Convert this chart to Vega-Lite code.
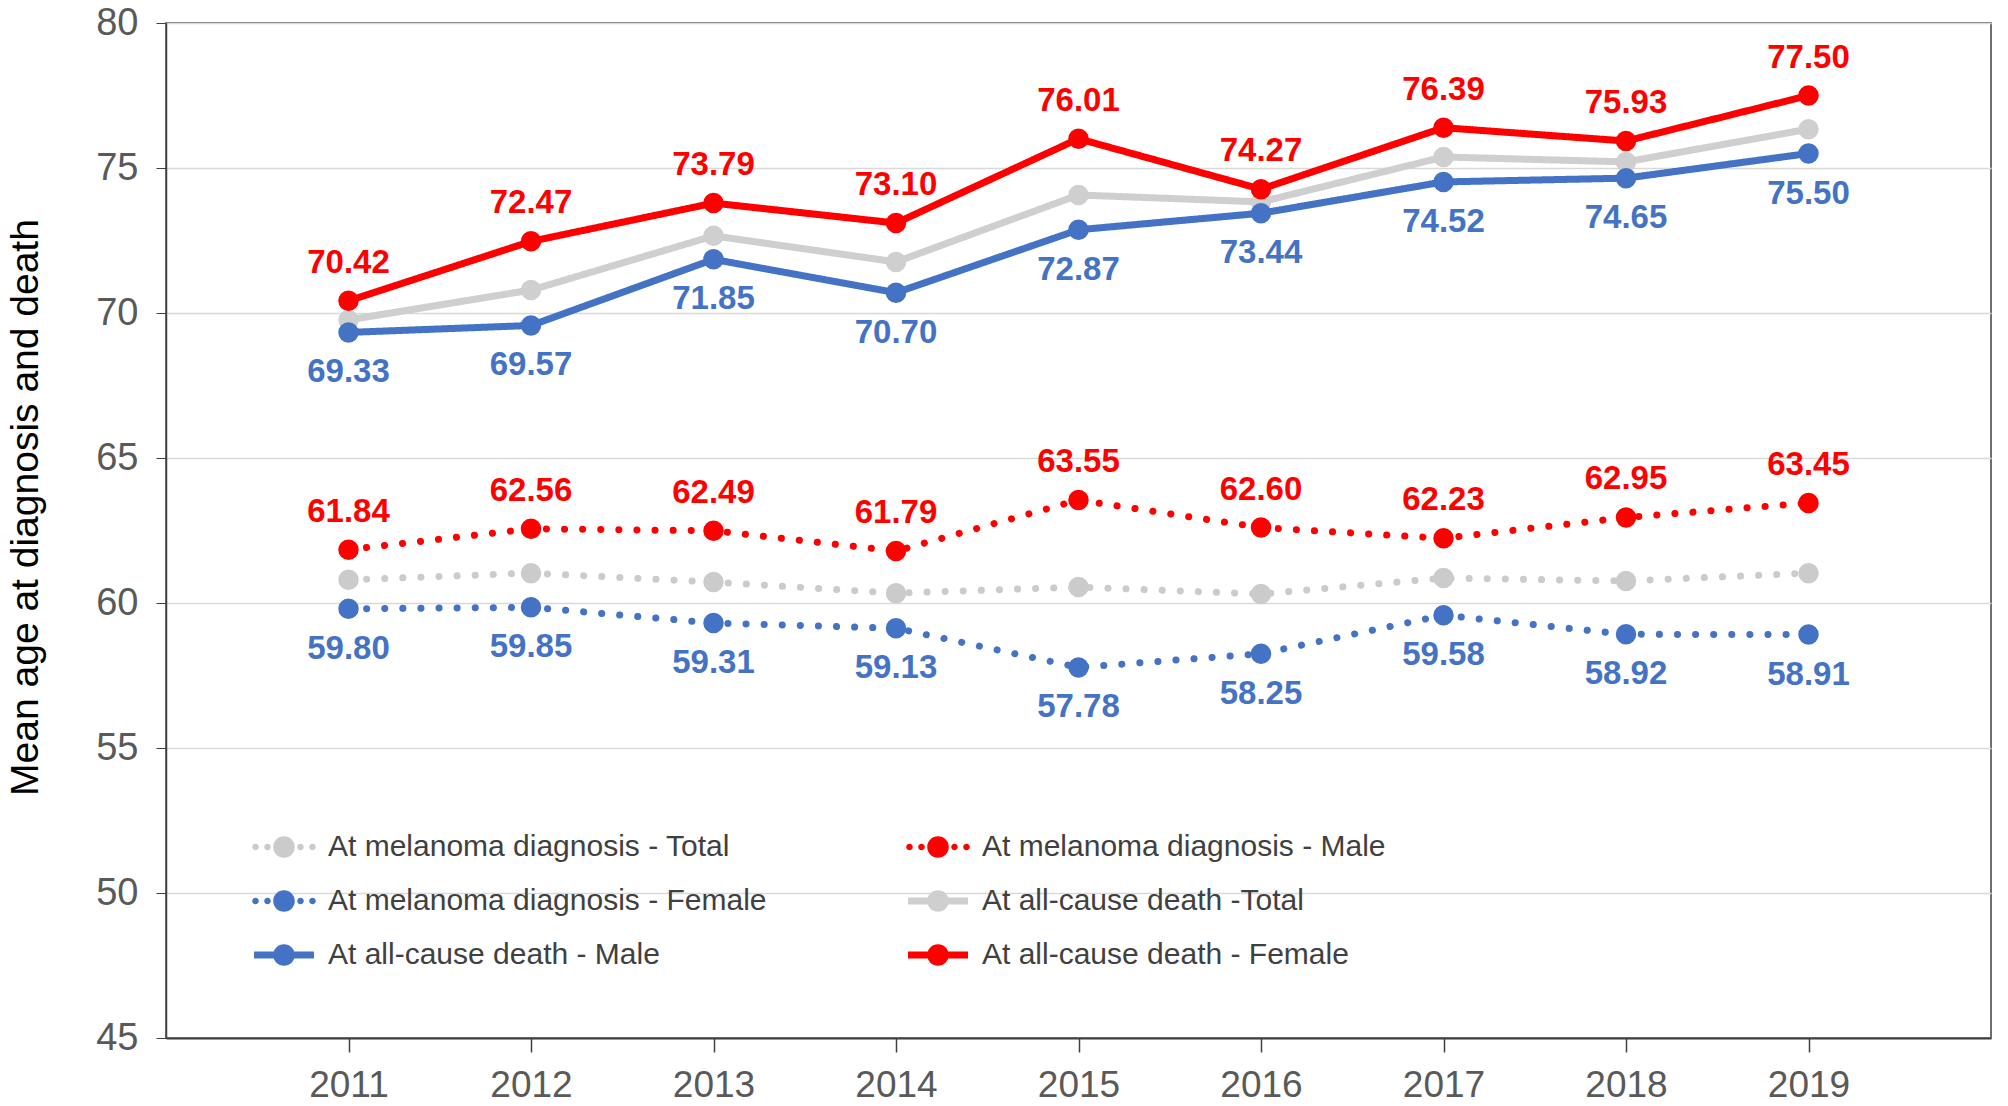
{
  "$schema": "https://vega.github.io/schema/vega-lite/v6.json",
  "description": "Mean age at melanoma diagnosis and at all-cause death, 2011-2019",
  "width": 1825,
  "height": 1015,
  "autosize": "none",
  "padding": {"left": 166, "top": 23, "right": 17, "bottom": 68},
  "background": "white",
  "data": {
    "values": [
      {"Year": 2011, "Series": "At melanoma diagnosis - Total", "Age": 60.80},
      {"Year": 2012, "Series": "At melanoma diagnosis - Total", "Age": 61.03},
      {"Year": 2013, "Series": "At melanoma diagnosis - Total", "Age": 60.72},
      {"Year": 2014, "Series": "At melanoma diagnosis - Total", "Age": 60.34},
      {"Year": 2015, "Series": "At melanoma diagnosis - Total", "Age": 60.55},
      {"Year": 2016, "Series": "At melanoma diagnosis - Total", "Age": 60.31},
      {"Year": 2017, "Series": "At melanoma diagnosis - Total", "Age": 60.86},
      {"Year": 2018, "Series": "At melanoma diagnosis - Total", "Age": 60.76},
      {"Year": 2019, "Series": "At melanoma diagnosis - Total", "Age": 61.03},
      {"Year": 2011, "Series": "At all-cause death -Total", "Age": 69.76},
      {"Year": 2012, "Series": "At all-cause death -Total", "Age": 70.79},
      {"Year": 2013, "Series": "At all-cause death -Total", "Age": 72.66},
      {"Year": 2014, "Series": "At all-cause death -Total", "Age": 71.76},
      {"Year": 2015, "Series": "At all-cause death -Total", "Age": 74.07},
      {"Year": 2016, "Series": "At all-cause death -Total", "Age": 73.83},
      {"Year": 2017, "Series": "At all-cause death -Total", "Age": 75.38},
      {"Year": 2018, "Series": "At all-cause death -Total", "Age": 75.21},
      {"Year": 2019, "Series": "At all-cause death -Total", "Age": 76.34},
      {"Year": 2011, "Series": "At melanoma diagnosis - Female", "Age": 59.80},
      {"Year": 2012, "Series": "At melanoma diagnosis - Female", "Age": 59.85},
      {"Year": 2013, "Series": "At melanoma diagnosis - Female", "Age": 59.31},
      {"Year": 2014, "Series": "At melanoma diagnosis - Female", "Age": 59.13},
      {"Year": 2015, "Series": "At melanoma diagnosis - Female", "Age": 57.78},
      {"Year": 2016, "Series": "At melanoma diagnosis - Female", "Age": 58.25},
      {"Year": 2017, "Series": "At melanoma diagnosis - Female", "Age": 59.58},
      {"Year": 2018, "Series": "At melanoma diagnosis - Female", "Age": 58.92},
      {"Year": 2019, "Series": "At melanoma diagnosis - Female", "Age": 58.91},
      {"Year": 2011, "Series": "At all-cause death - Male", "Age": 69.33},
      {"Year": 2012, "Series": "At all-cause death - Male", "Age": 69.57},
      {"Year": 2013, "Series": "At all-cause death - Male", "Age": 71.85},
      {"Year": 2014, "Series": "At all-cause death - Male", "Age": 70.70},
      {"Year": 2015, "Series": "At all-cause death - Male", "Age": 72.87},
      {"Year": 2016, "Series": "At all-cause death - Male", "Age": 73.44},
      {"Year": 2017, "Series": "At all-cause death - Male", "Age": 74.52},
      {"Year": 2018, "Series": "At all-cause death - Male", "Age": 74.65},
      {"Year": 2019, "Series": "At all-cause death - Male", "Age": 75.50},
      {"Year": 2011, "Series": "At melanoma diagnosis - Male", "Age": 61.84},
      {"Year": 2012, "Series": "At melanoma diagnosis - Male", "Age": 62.56},
      {"Year": 2013, "Series": "At melanoma diagnosis - Male", "Age": 62.49},
      {"Year": 2014, "Series": "At melanoma diagnosis - Male", "Age": 61.79},
      {"Year": 2015, "Series": "At melanoma diagnosis - Male", "Age": 63.55},
      {"Year": 2016, "Series": "At melanoma diagnosis - Male", "Age": 62.60},
      {"Year": 2017, "Series": "At melanoma diagnosis - Male", "Age": 62.23},
      {"Year": 2018, "Series": "At melanoma diagnosis - Male", "Age": 62.95},
      {"Year": 2019, "Series": "At melanoma diagnosis - Male", "Age": 63.45},
      {"Year": 2011, "Series": "At all-cause death - Female", "Age": 70.42},
      {"Year": 2012, "Series": "At all-cause death - Female", "Age": 72.47},
      {"Year": 2013, "Series": "At all-cause death - Female", "Age": 73.79},
      {"Year": 2014, "Series": "At all-cause death - Female", "Age": 73.10},
      {"Year": 2015, "Series": "At all-cause death - Female", "Age": 76.01},
      {"Year": 2016, "Series": "At all-cause death - Female", "Age": 74.27},
      {"Year": 2017, "Series": "At all-cause death - Female", "Age": 76.39},
      {"Year": 2018, "Series": "At all-cause death - Female", "Age": 75.93},
      {"Year": 2019, "Series": "At all-cause death - Female", "Age": 77.50}
    ]
  },
  "encoding": {
    "x": {
      "field": "Year",
      "type": "quantitative",
      "scale": {"domain": [2010, 2020], "nice": false, "zero": false},
      "axis": {
        "values": [2011, 2012, 2013, 2014, 2015, 2016, 2017, 2018, 2019],
        "format": "d",
        "title": null,
        "grid": false,
        "domainColor": "#404040",
        "domainWidth": 2,
        "tickColor": "#404040",
        "tickWidth": 1.5,
        "tickSize": 14,
        "labelFont": "Liberation Sans",
        "labelFontSize": 37,
        "labelColor": "#595959",
        "labelPadding": 15
      }
    },
    "y": {
      "field": "Age",
      "type": "quantitative",
      "scale": {"domain": [45, 80], "nice": false, "zero": false},
      "axis": {
        "values": [45, 50, 55, 60, 65, 70, 75, 80],
        "title": "Mean age at diagnosis and death",
        "titleFont": "Liberation Sans",
        "titleFontSize": 39,
        "titleFontWeight": "normal",
        "titleColor": "black",
        "titlePadding": 50,
        "titleY": 484,
        "gridColor": "#d9d9d9",
        "gridWidth": 1.5,
        "domainColor": "#404040",
        "domainWidth": 1.5,
        "tickColor": "#404040",
        "tickSize": 10,
        "labelFont": "Liberation Sans",
        "labelFontSize": 38,
        "labelColor": "#595959",
        "labelPadding": 18
      }
    },
    "color": {
      "field": "Series",
      "type": "nominal",
      "scale": {
        "domain": ["At melanoma diagnosis - Total", "At melanoma diagnosis - Male", "At melanoma diagnosis - Female", "At all-cause death -Total", "At all-cause death - Male", "At all-cause death - Female"],
        "range": ["#cbcbcb", "#ff0000", "#4472c4", "#cfcfcf", "#4472c4", "#ff0000"]
      },
      "legend": {
        "orient": "none",
        "legendX": 88,
        "legendY": 794,
        "direction": "horizontal",
        "columns": 2,
        "columnPadding": 139,
        "rowPadding": 9,
        "title": null,
        "symbolType": "M-1,-0.12H1V0.12H-1ZM0.36,0A0.36,0.36,0,1,1,-0.36,0A0.36,0.36,0,1,1,0.36,0Z",
        "symbolSize": 3600,
        "symbolStrokeWidth": 0,
        "labelFont": "Liberation Sans",
        "labelFontSize": 30,
        "labelColor": "#404040",
        "labelLimit": 700,
        "labelOffset": 14,
        "encode": {
          "symbols": {
            "update": {
              "shape": {"signal": "indexof(datum.value, 'diagnosis') >= 0 ? 'M-0.84,0A0.11,0.11,0,1,1,-1.06,0A0.11,0.11,0,1,1,-0.84,0ZM-0.44,0A0.11,0.11,0,1,1,-0.66,0A0.11,0.11,0,1,1,-0.44,0ZM0.66,0A0.11,0.11,0,1,1,0.44,0A0.11,0.11,0,1,1,0.66,0ZM1.06,0A0.11,0.11,0,1,1,0.84,0A0.11,0.11,0,1,1,1.06,0ZM0.36,0A0.36,0.36,0,1,1,-0.36,0A0.36,0.36,0,1,1,0.36,0Z' : 'M-1,-0.12H1V0.12H-1ZM0.36,0A0.36,0.36,0,1,1,-0.36,0A0.36,0.36,0,1,1,0.36,0Z'"},
              "fill": {"scale": "color", "field": "value"},
              "strokeWidth": {"value": 0},
              "opacity": {"value": 1}
            }
          }
        }
      }
    }
  },
  "layer": [
    {
      "mark": {"type": "line", "strokeWidth": 7, "strokeCap": "round"},
      "encoding": {
        "strokeDash": {
          "field": "Series",
          "type": "nominal",
          "scale": {
            "domain": ["At melanoma diagnosis - Total", "At melanoma diagnosis - Male", "At melanoma diagnosis - Female", "At all-cause death -Total", "At all-cause death - Male", "At all-cause death - Female"],
            "range": [[0.1, 18], [0.1, 18], [0.1, 18], [1, 0], [1, 0], [1, 0]]
          },
          "legend": null
        }
      }
    },
    {
      "mark": {"type": "point", "filled": true, "size": 420, "opacity": 1}
    },
    {
      "transform": [{"filter": {"field": "Series", "oneOf": ["At all-cause death - Female", "At melanoma diagnosis - Male"]}}],
      "mark": {"type": "text", "font": "Liberation Sans", "fontSize": 33, "fontWeight": "bold", "dy": -38},
      "encoding": {"text": {"field": "Age", "type": "quantitative", "format": ".2f"}}
    },
    {
      "transform": [{"filter": {"field": "Series", "oneOf": ["At all-cause death - Male", "At melanoma diagnosis - Female"]}}],
      "mark": {"type": "text", "font": "Liberation Sans", "fontSize": 33, "fontWeight": "bold", "dy": 40},
      "encoding": {"text": {"field": "Age", "type": "quantitative", "format": ".2f"}}
    }
  ],
  "config": {
    "font": "Liberation Sans",
    "view": {"stroke": "#404040", "strokeWidth": 1.5}
  }
}
